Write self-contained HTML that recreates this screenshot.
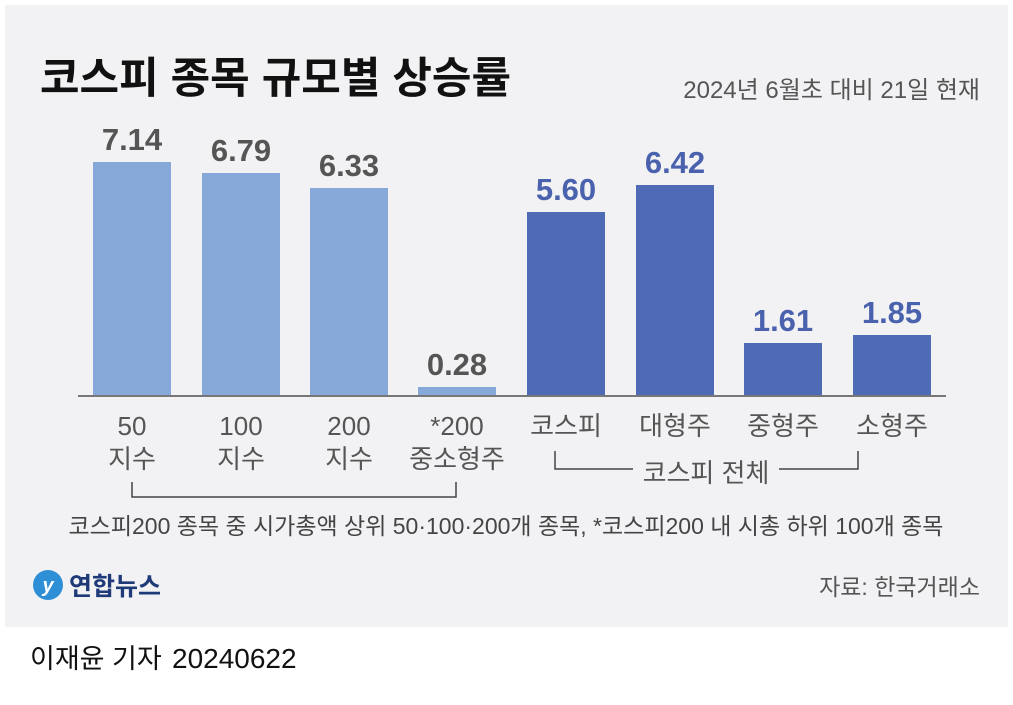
<!DOCTYPE html>
<html><head><meta charset="utf-8"><style>
body{margin:0;width:1013px;height:700px;background:#fff;overflow:hidden;font-family:"Liberation Sans","Noto Sans CJK KR",sans-serif}
</style></head><body>
<svg width="1013" height="700" xmlns="http://www.w3.org/2000/svg" font-family="Liberation Sans, Noto Sans CJK KR, sans-serif">
<rect x="5" y="5" width="1003" height="622" fill="#f2f2f4"/>
<text x="40" y="93" font-size="43" font-weight="bold" fill="#111">코스피 종목 규모별 상승률</text>
<text x="980" y="98" font-size="24" fill="#555" text-anchor="end">2024년 6월초 대비 21일 현재</text>
<g fill="#86a9d9">
<rect x="93" y="162" width="78" height="234"/>
<rect x="202" y="173" width="78" height="223"/>
<rect x="310" y="188" width="78" height="208"/>
<rect x="418" y="387" width="78" height="9"/>
</g>
<g fill="#506bb5">
<rect x="527" y="212" width="78" height="184"/>
<rect x="636" y="185" width="78" height="211"/>
<rect x="744" y="343" width="78" height="53"/>
<rect x="853" y="335" width="78" height="61"/>
</g>
<line x1="78" y1="396" x2="946" y2="396" stroke="#777" stroke-width="2"/>
<g font-size="31" font-weight="bold" text-anchor="middle" fill="#555">
<text x="132" y="150">7.14</text><text x="241" y="161">6.79</text><text x="349" y="176">6.33</text><text x="457" y="375">0.28</text>
</g>
<g font-size="31" font-weight="bold" text-anchor="middle" fill="#4a62ad">
<text x="566" y="200">5.60</text><text x="675" y="173">6.42</text><text x="783" y="331">1.61</text><text x="892" y="323">1.85</text>
</g>
<g font-size="26" text-anchor="middle" fill="#555">
<text x="132" y="435">50</text><text x="132" y="468">지수</text>
<text x="241" y="435">100</text><text x="241" y="468">지수</text>
<text x="349" y="435">200</text><text x="349" y="468">지수</text>
<text x="457" y="435">*200</text><text x="457" y="468">중소형주</text>
<text x="566" y="435">코스피</text><text x="675" y="435">대형주</text>
<text x="783" y="435">중형주</text><text x="892" y="435">소형주</text>
<text x="706" y="482">코스피 전체</text>
</g>
<g stroke="#444" stroke-width="1.5" fill="none">
<polyline points="555,451 555,469 633,469"/>
<polyline points="779,469 858,469 858,451"/>
<polyline points="132,482 132,497 456,497 456,482"/>
</g>
<text x="506" y="534" font-size="23" fill="#444" text-anchor="middle">코스피200 종목 중 시가총액 상위 50·100·200개 종목, *코스피200 내 시총 하위 100개 종목</text>
<circle cx="48" cy="585" r="15" fill="#2f8fd6"/>
<text x="48" y="592" font-size="20" font-style="italic" font-weight="bold" fill="#fff" text-anchor="middle">y</text>
<text x="69" y="595" font-size="25" font-weight="bold" fill="#1e3a78">연합뉴스</text>
<text x="980" y="595" font-size="23" fill="#555" text-anchor="end">자료: 한국거래소</text>
<text x="30" y="668" font-size="27" fill="#111">이재윤 기자</text>
<text x="172" y="668" font-size="28" fill="#111">20240622</text>
</svg>
</body></html>
